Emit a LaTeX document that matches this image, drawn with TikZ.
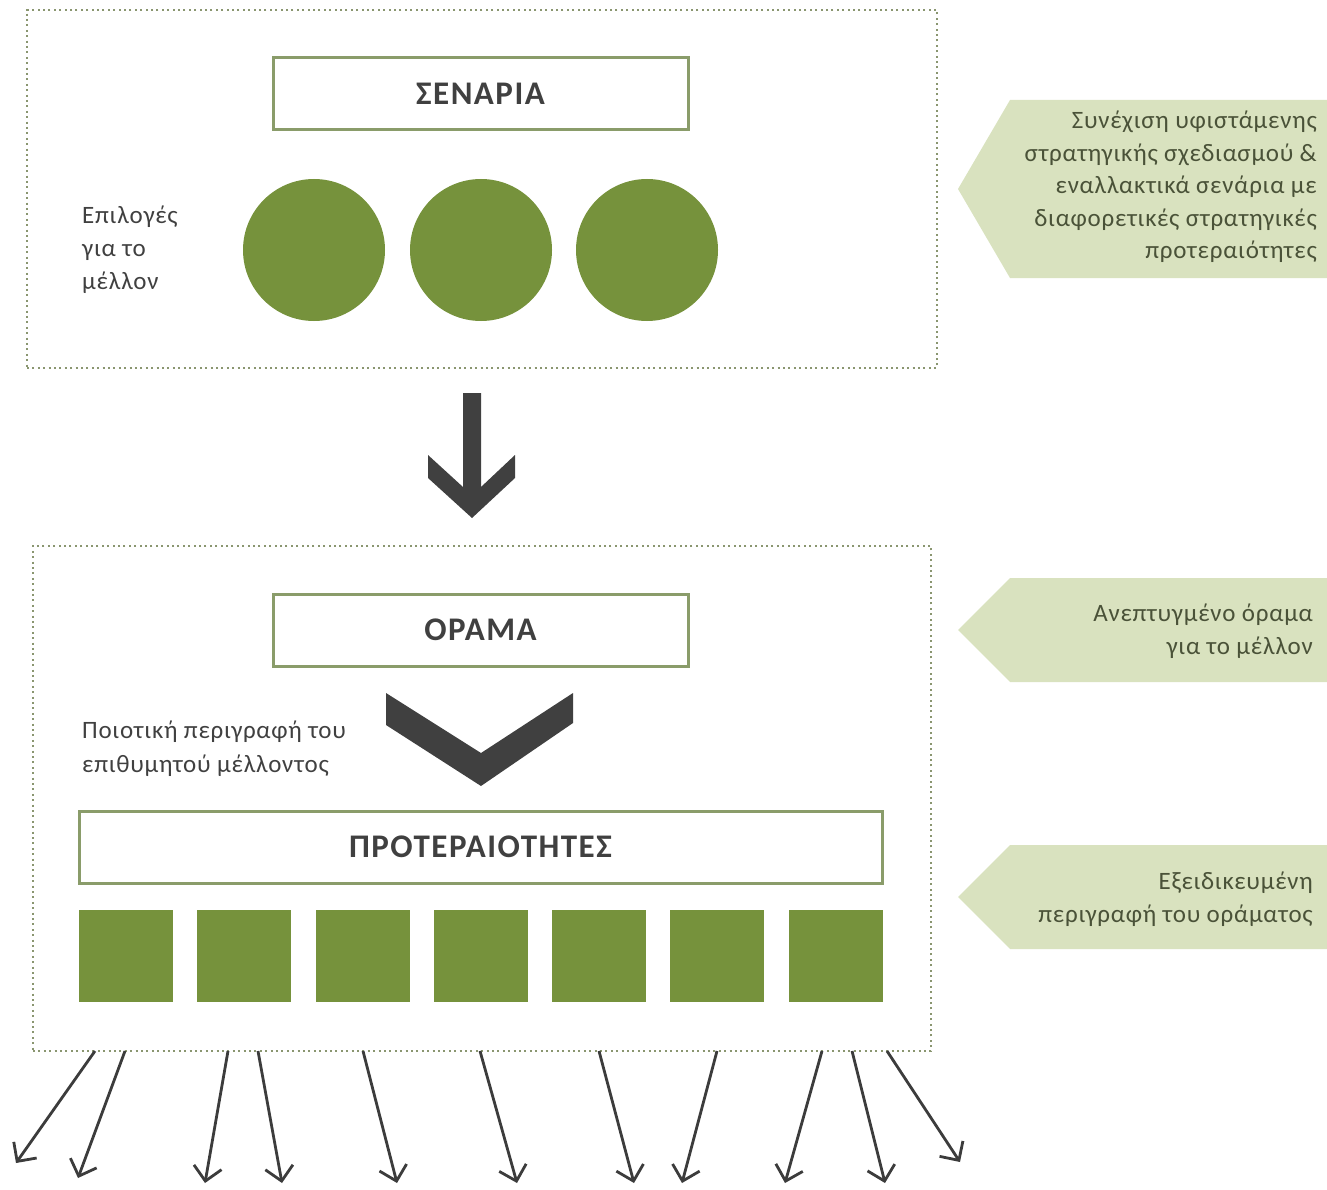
\documentclass[tikz,border=0pt]{standalone}
\usepackage{fontspec}
\setmainfont{Carlito}
\newfontfamily\bodyfont[LetterSpace=3]{Carlito}
\newfontfamily\titlefont[LetterSpace=4.5]{Carlito}
\usetikzlibrary{arrows.meta}
\definecolor{olive}{HTML}{76923C}
\definecolor{boxline}{HTML}{8A9C6A}
\definecolor{dotline}{HTML}{8A9670}
\definecolor{tagfill}{HTML}{D9E2BF}
\definecolor{tagtext}{HTML}{4A5238}
\definecolor{darkg}{HTML}{404040}
\definecolor{arrowg}{HTML}{3C3C3C}
\tikzset{
  frame/.style={draw=dotline, line width=2.4pt, dash pattern=on 2pt off 3.4pt},
  titlebox/.style={draw=boxline, line width=3pt, fill=white, minimum height=72pt, inner sep=0pt,
    text=darkg, font=\titlefont\fontsize{33}{38}\selectfont\bfseries},
  disc/.style={circle, fill=olive, minimum size=142pt, inner sep=0pt},
  sq/.style={rectangle, fill=olive, minimum width=94pt, minimum height=92pt, inner sep=0pt},
  lbl/.style={text=darkg, font=\bodyfont\fontsize{25}{33}\selectfont, align=left, anchor=west, inner sep=0pt},
  tagtxt/.style={text=tagtext, font=\bodyfont\fontsize{25}{32.5}\selectfont, align=right, anchor=east, inner sep=0pt},
  tagshape/.style={fill=tagfill},
  bigarrow/.style={fill=darkg},
  outarrow/.style={draw=arrowg, line width=2.8pt, -{Straight Barb[length=14pt,width=28pt,line width=2.8pt]}},
}
\begin{document}
\begin{tikzpicture}[x=1pt,y=-1pt]
\useasboundingbox (0,0) rectangle (1327,1190);

% ---------- top frame ----------
\node[frame, minimum width=910pt, minimum height=358pt, inner sep=0pt] (topframe) at (482,189) {};
\node[titlebox, minimum width=415pt] (senaria) at (480.5,94) {ΣΕΝΑΡΙΑ};
\node[disc] (c1) at (314,250) {};
\node[disc] (c2) at (481,250) {};
\node[disc] (c3) at (647,250) {};
\node[lbl] (options) at (82,250) {Επιλογές\\για το\\μέλλον};

% ---------- big arrow ----------
\fill[bigarrow] (463,393) -- (481,393) -- (481,487) -- (515,455) -- (515,478) -- (472,518)
  -- (428,478) -- (428,455) -- (463,487) -- cycle;

% ---------- bottom frame ----------
\node[frame, minimum width=898pt, minimum height=505pt, inner sep=0pt] (lowframe) at (482,798.5) {};
\node[titlebox, minimum width=415pt] (orama) at (480.5,630) {ΟΡΑΜΑ};
\fill[bigarrow] (386,693) -- (481,753) -- (573,693) -- (573,723) -- (481,786) -- (386,725) -- cycle;
\node[lbl, font=\bodyfont\fontsize{25}{34}\selectfont] (quality) at (82,749) {Ποιοτική περιγραφή του\\επιθυμητού μέλλοντος};
\node[titlebox, minimum width=803pt] (prot) at (480.5,847) {ΠΡΟΤΕΡΑΙΟΤΗΤΕΣ};
\foreach \i/\x in {1/126,2/244,3/362.5,4/481,5/599,6/717,7/836}{
  \node[sq] (s\i) at (\x,956) {};
}

% ---------- side tags ----------
\fill[tagshape] (1010,100) -- (1327,100) -- (1327,278) -- (1010,278) -- (958,189) -- cycle;
\node[tagtxt] (tag1) at (1317,187) {Συνέχιση υφιστάμενης\\στρατηγικής σχεδιασμού \&\\εναλλακτικά σενάρια με\\διαφορετικές στρατηγικές\\προτεραιότητες};
\fill[tagshape] (1010,578) -- (1327,578) -- (1327,682) -- (1010,682) -- (958,630) -- cycle;
\node[tagtxt] (tag2) at (1313,631) {Ανεπτυγμένο όραμα\\για το μέλλον};
\fill[tagshape] (1010,845) -- (1327,845) -- (1327,949) -- (1010,949) -- (958,897) -- cycle;
\node[tagtxt] (tag3) at (1313,899) {Εξειδικευμένη\\περιγραφή του οράματος};

% ---------- outgoing arrows ----------
\foreach \i/\sx/\ex/\ey in {1/95/16/1163, 2/125/78/1178, 3/228/205/1183, 4/258/282/1183,
  5/363/397/1183, 6/480/517/1183, 7/599/634/1183, 8/717/682/1183, 9/822/785/1183,
  10/852/885/1183, 11/887/960/1162}{
  \coordinate (a\i) at (\sx,1051);
  \coordinate (b\i) at (\ex,\ey);
  \draw[outarrow] (a\i) -- (b\i);
}
\end{tikzpicture}
\end{document}
